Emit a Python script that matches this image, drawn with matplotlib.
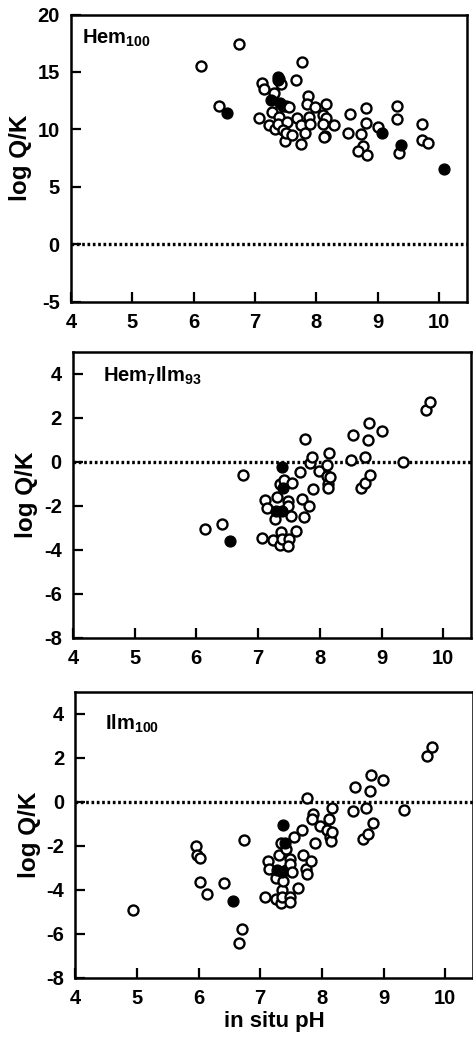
import matplotlib
matplotlib.use('Agg')
import matplotlib.pyplot as plt

plt.rcParams['font.family'] = ['Liberation Sans', 'DejaVu Sans']
plt.rcParams['font.weight'] = 'bold'
plt.rcParams['axes.unicode_minus'] = False
plt.rcParams['mathtext.fontset'] = 'custom'
plt.rcParams['mathtext.rm'] = 'Liberation Sans:bold'
plt.rcParams['mathtext.bf'] = 'Liberation Sans:bold'
plt.rcParams['mathtext.it'] = 'Liberation Sans:bold'

# Hem100: open = individual samples, filled = highlighted samples
hem_open_ph = [6.12, 6.73, 6.41, 7.06, 7.11, 7.14, 7.30, 7.28, 7.23, 7.39, 7.43, 7.33,
               7.39, 7.37, 7.45, 7.50, 7.56, 7.52, 7.46, 7.48, 7.50, 7.60, 7.66, 7.69,
               7.76, 7.75, 7.75, 7.81, 7.86, 7.84, 7.88, 7.89, 7.98, 8.15, 8.11, 8.16,
               8.10, 8.14, 8.13, 8.29, 8.51, 8.55, 8.73, 8.75, 8.67, 8.80, 8.81, 8.83,
               9.00, 9.32, 9.32, 9.35, 9.72, 9.72, 9.81]
hem_open_lqk = [15.56, 17.43, 12.0, 11.0, 14.06, 13.48, 13.13, 11.52, 10.35, 14.36, 13.92, 10.0,
                11.08, 10.5, 12.0, 12.0, 11.96, 10.64, 9.97, 8.95, 9.68, 9.53, 14.3, 10.97,
                15.9, 10.4, 8.71, 9.68, 12.9, 12.25, 11.08, 10.5, 11.96, 12.22, 11.23, 11.0,
                10.5, 9.47, 9.33, 10.35, 9.71, 11.35, 9.62, 8.6, 8.1, 10.58, 11.9, 7.8,
                10.2, 12.05, 10.94, 7.92, 10.5, 9.04, 8.83]
hem_fill_ph = [6.55, 7.37, 7.38, 7.26, 7.41, 9.06, 9.37, 10.08]
hem_fill_lqk = [11.46, 14.55, 14.3, 12.6, 12.3, 9.71, 8.68, 6.52]

# Hem7Ilm93
hi_open_ph = [6.14, 6.42, 6.75, 7.06, 7.12, 7.15, 7.24, 7.28, 7.31, 7.35, 7.37, 7.35,
              7.39, 7.42, 7.48, 7.48, 7.50, 7.48, 7.53, 7.55, 7.61, 7.68, 7.71, 7.75,
              7.76, 7.82, 7.84, 7.87, 7.89, 7.98, 8.11, 8.11, 8.14, 8.14, 8.17, 8.15,
              8.51, 8.54, 8.67, 8.73, 8.73, 8.78, 8.80, 8.81, 9.00, 9.34, 9.72, 9.79]
hi_open_lqk = [-3.05, -2.82, -0.61, -3.48, -1.74, -2.12, -3.58, -2.62, -1.59, -1.0, -3.18, -3.8,
               -3.5, -0.85, -1.79, -2.02, -3.5, -3.83, -2.47, -0.98, -3.15, -0.45, -1.71, -2.52,
               1.05, -2.02, -0.08, 0.21, -1.26, -0.42, -0.17, -0.65, -1.03, -1.21, -0.7, 0.38,
               0.08, 1.2, -1.21, -0.98, 0.21, 0.97, 1.77, -0.61, 1.39, -0.02, 2.35, 2.73]
hi_fill_ph = [6.55, 7.38, 7.40, 7.29, 7.38]
hi_fill_lqk = [-3.61, -0.24, -1.18, -2.24, -2.24]

# Ilm100
ilm_open_ph = [4.93, 5.96, 5.98, 6.02, 6.02, 6.14, 6.42, 6.66, 6.71, 6.74, 7.07, 7.12,
               7.15, 7.25, 7.26, 7.31, 7.34, 7.36, 7.37, 7.34, 7.41, 7.42, 7.36, 7.48,
               7.49, 7.52, 7.48, 7.49, 7.55, 7.62, 7.67, 7.69, 7.76, 7.75, 7.76, 7.82,
               7.85, 7.84, 7.89, 7.97, 8.12, 8.09, 8.13, 8.14, 8.17, 8.16, 8.50, 8.54,
               8.66, 8.72, 8.75, 8.78, 8.79, 8.83, 8.99, 9.33, 9.70, 9.78]
ilm_open_lqk = [-4.92, -2.03, -2.41, -2.57, -3.63, -4.19, -3.71, -6.41, -5.80, -1.73, -4.34, -2.67,
                -3.05, -4.42, -3.48, -2.44, -4.62, -4.01, -3.58, -1.88, -2.16, -3.10, -4.34, -2.6,
                -2.82, -3.2, -4.31, -4.57, -1.62, -3.9, -1.3, -2.44, 0.17, -3.07, -3.3, -2.69,
                -0.56, -0.79, -1.88, -1.12, -0.77, -1.3, -1.58, -1.78, -1.36, -0.29, -0.41, 0.67,
                -1.68, -0.29, -1.46, 0.5, 1.23, -0.97, 1.01, -0.36, 2.1, 2.5]
ilm_fill_ph = [6.56, 7.37, 7.40, 7.28, 7.36]
ilm_fill_lqk = [-4.5, -1.05, -1.88, -3.1, -3.2]

panels = [
    (r'$\mathregular{Hem_{100}}$', hem_open_ph, hem_open_lqk, hem_fill_ph, hem_fill_lqk,
     (-5, 20), [-5, 0, 5, 10, 15, 20], [0.150, 0.709, 0.837, 0.277], (0.028, 0.955)),
    (r'$\mathregular{Hem_7Ilm_{93}}$', hi_open_ph, hi_open_lqk, hi_fill_ph, hi_fill_lqk,
     (-8, 5), [-8, -6, -4, -2, 0, 2, 4], [0.154, 0.385, 0.842, 0.276], (0.075, 0.955)),
    (r'$\mathregular{Ilm_{100}}$', ilm_open_ph, ilm_open_lqk, ilm_fill_ph, ilm_fill_lqk,
     (-8, 5), [-8, -6, -4, -2, 0, 2, 4], [0.159, 0.057, 0.841, 0.276], (0.075, 0.927)),
]

fig = plt.figure(figsize=(4.73, 10.37), dpi=100)

for i, (label, ox, oy, fx, fy, ylim, yticks, rect, lpos) in enumerate(panels):
    ax = fig.add_axes(rect)
    ax.axhline(0, color='black', linestyle=(0, (0.8, 0.8)), linewidth=2.4, zorder=1)
    ax.plot(ox, oy, 'o', markerfacecolor='white', markeredgecolor='black',
            markersize=7.2, markeredgewidth=1.7, linestyle='none', zorder=2)
    ax.plot(fx, fy, 'o', color='black', markersize=7.8, linestyle='none', zorder=3)
    ax.set_xlim(4, 10.45)
    ax.set_ylim(*ylim)
    ax.set_xticks([4, 5, 6, 7, 8, 9, 10])
    ax.set_yticks(yticks)
    ax.tick_params(direction='in', length=7, width=1.6, labelsize=14.5, pad=8,
                   top=False, right=False)
    for lab in ax.get_xticklabels() + ax.get_yticklabels():
        lab.set_fontweight('bold')
    for s in ax.spines.values():
        s.set_linewidth(1.8)
    ax.set_ylabel('log Q/K', fontsize=17.5, fontweight='bold', labelpad=4)
    ax.text(lpos[0], lpos[1], label, transform=ax.transAxes, fontsize=14.5,
            fontweight='bold', ha='left', va='top')
    if i == 2:
        ax.set_xlabel('in situ pH', fontsize=16, fontweight='bold', labelpad=2)

fig.savefig('out.png', dpi=100)
